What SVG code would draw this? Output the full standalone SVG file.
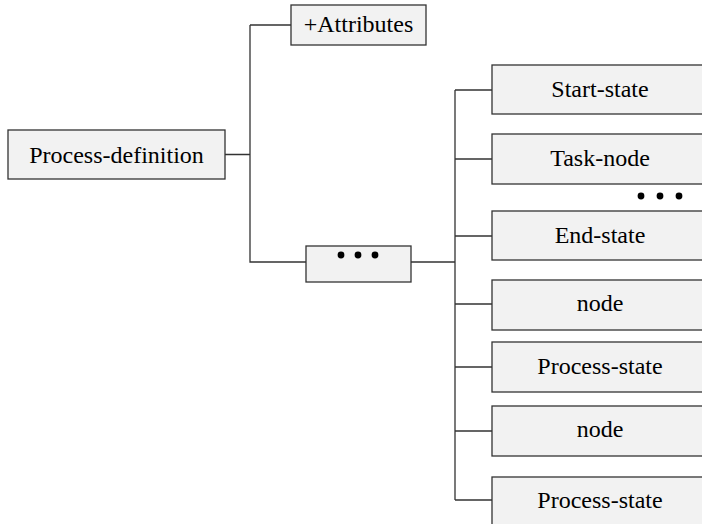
<svg xmlns="http://www.w3.org/2000/svg" width="702" height="524" viewBox="0 0 702 524">
<style>
.box{fill:#f2f2f2;stroke:#333;stroke-width:1.3}
.lbl{font-family:"Liberation Serif","Times New Roman",serif;font-size:24px;fill:#000;text-anchor:middle}
.ln{fill:none;stroke:#333;stroke-width:1.3}
.dot{fill:#000}
</style>
<rect width="702" height="524" fill="#fff"/>
<g id="connectors">
<path class="ln" d="M225,154.5H250M250,25V262H306M291,25H250"/>
<path class="ln" d="M411,262H455M455,90V500M455,90H492M455,159H492M455,236H492M455,304H492M455,367H492M455,431H492M455,500H492"/>
</g>
<g id="process-definition"><rect class="box" x="8" y="130" width="217" height="49"/><text class="lbl" x="116.5" y="163">Process-definition</text></g>
<g id="attributes"><rect class="box" x="291" y="5" width="135" height="40"/><text class="lbl" x="358.5" y="32">+Attributes</text></g>
<g id="ellipsis"><rect class="box" x="306" y="246" width="105" height="36"/><circle class="dot" cx="341" cy="255" r="3.4"/><circle class="dot" cx="358" cy="255" r="3.4"/><circle class="dot" cx="375" cy="255" r="3.4"/></g>
<g id="start-state"><rect class="box" x="492" y="65" width="216" height="49"/><text class="lbl" x="600" y="97">Start-state</text></g>
<g id="task-node"><rect class="box" x="492" y="134" width="216" height="50"/><text class="lbl" x="600" y="166">Task-node</text></g>
<g id="more"><circle class="dot" cx="641" cy="196" r="3.4"/><circle class="dot" cx="660" cy="196" r="3.4"/><circle class="dot" cx="679" cy="196" r="3.4"/></g>
<g id="end-state"><rect class="box" x="492" y="211" width="216" height="49"/><text class="lbl" x="600" y="243">End-state</text></g>
<g id="node-1"><rect class="box" x="492" y="280" width="216" height="50"/><text class="lbl" x="600" y="311">node</text></g>
<g id="process-state-1"><rect class="box" x="492" y="342" width="216" height="50"/><text class="lbl" x="600" y="374">Process-state</text></g>
<g id="node-2"><rect class="box" x="492" y="406" width="216" height="50"/><text class="lbl" x="600" y="437">node</text></g>
<g id="process-state-2"><rect class="box" x="492" y="477" width="216" height="60"/><text class="lbl" x="600" y="508">Process-state</text></g>
</svg>
